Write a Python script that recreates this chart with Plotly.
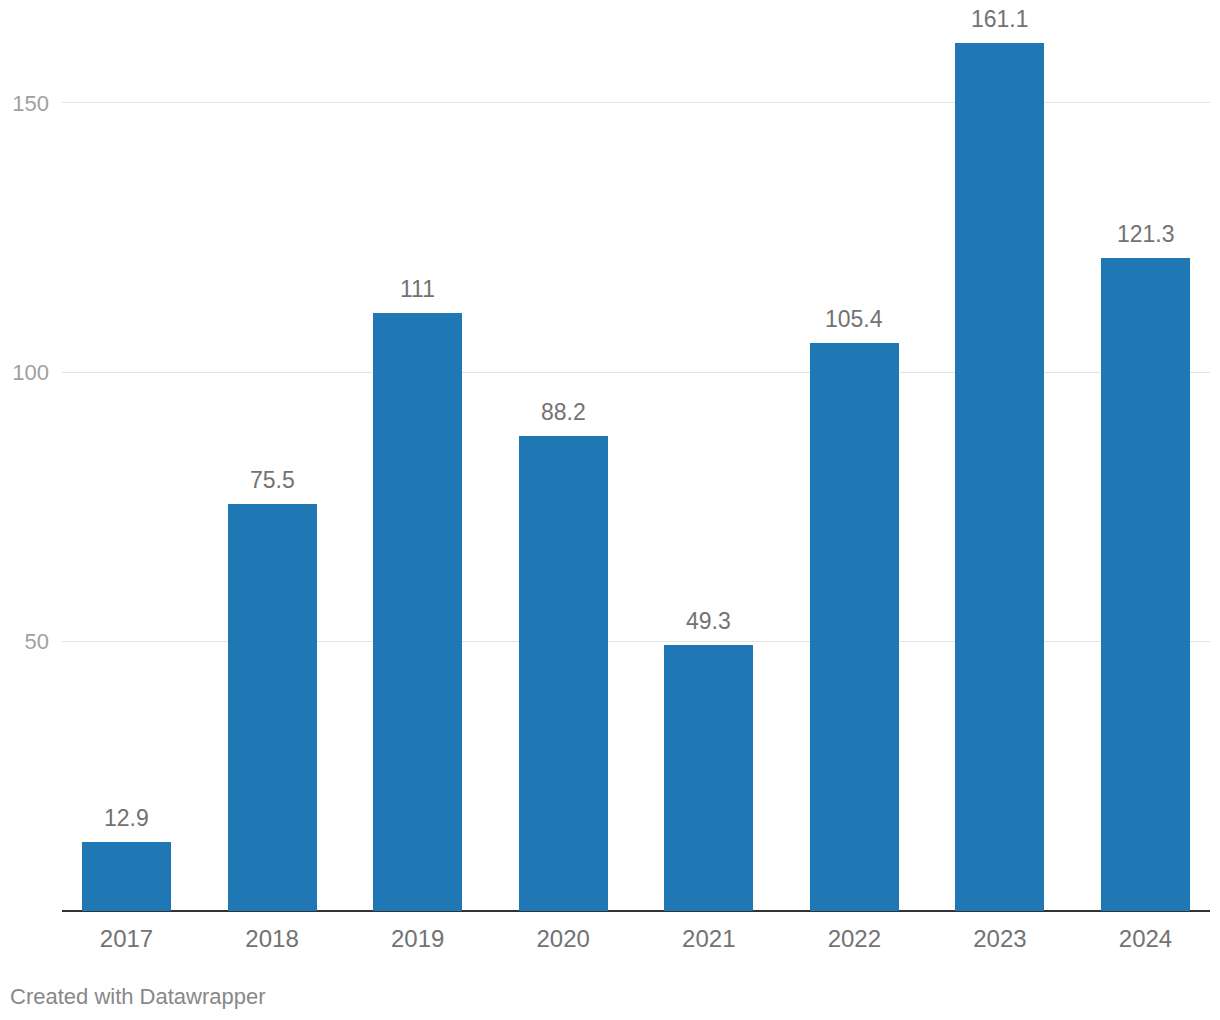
import plotly.graph_objects as go

years = ["2017", "2018", "2019", "2020", "2021", "2022", "2023", "2024"]
values = [12.9, 75.5, 111, 88.2, 49.3, 105.4, 161.1, 121.3]
value_labels = ["12.9", "75.5", "111", "88.2", "49.3", "105.4", "161.1", "121.3"]
y_ticks = [50, 100, 150]
y_tick_labels = ["50", "100", "150"]

# the page adds an 8px body margin; the figure is sized to compensate
W, H = 1212, 1012
ml, mr, mt, mb = 54, 10, 12, 108.5

fig = go.Figure()
fig.add_trace(go.Bar(
    x=years, y=values, width=0.611,
    marker=dict(color="#1f78b4", line=dict(width=0)),
    hoverinfo="skip",
))

for i, (v, t) in enumerate(zip(values, value_labels)):
    fig.add_annotation(
        x=i, y=v, text=t, showarrow=False, yanchor="bottom", yshift=9,
        font=dict(family="Liberation Sans, Arial, sans-serif", size=23, color="#727272"),
    )

plot_h = H - mt - mb
plot_w = W - ml - mr
fig.add_annotation(
    xref="paper", yref="paper", x=(0 - ml) / plot_w, y=(H - mb - 989) / plot_h,
    xanchor="left", yanchor="middle", showarrow=False,
    text="Created with Datawrapper",
    font=dict(family="Liberation Sans, Arial, sans-serif", size=22, color="#888888"),
)

fig.update_layout(
    width=W, height=H,
    margin=dict(l=ml, r=mr, t=mt, b=mb, pad=0),
    paper_bgcolor="white", plot_bgcolor="white",
    showlegend=False, bargap=0,
    font=dict(family="Liberation Sans, Arial, sans-serif", size=22),
    xaxis=dict(
        type="category", range=[-0.443, 7.443], showgrid=False, zeroline=False,
        showline=False, ticks="", tickfont=dict(size=24, color="#727272"),
        ticklabelstandoff=11, fixedrange=True,
    ),
    yaxis=dict(
        range=[0, plot_h / 5.39], tickvals=y_ticks, ticktext=y_tick_labels,
        showgrid=True, gridcolor="#e3e3e3", gridwidth=1,
        zeroline=True, zerolinecolor="#333333", zerolinewidth=2,
        showline=False, ticks="", tickfont=dict(size=22, color="#a0a0a0"),
        ticklabelstandoff=12, fixedrange=True, automargin=False,
    ),
)

fig.write_html("out.html", config={"displayModeBar": False})
